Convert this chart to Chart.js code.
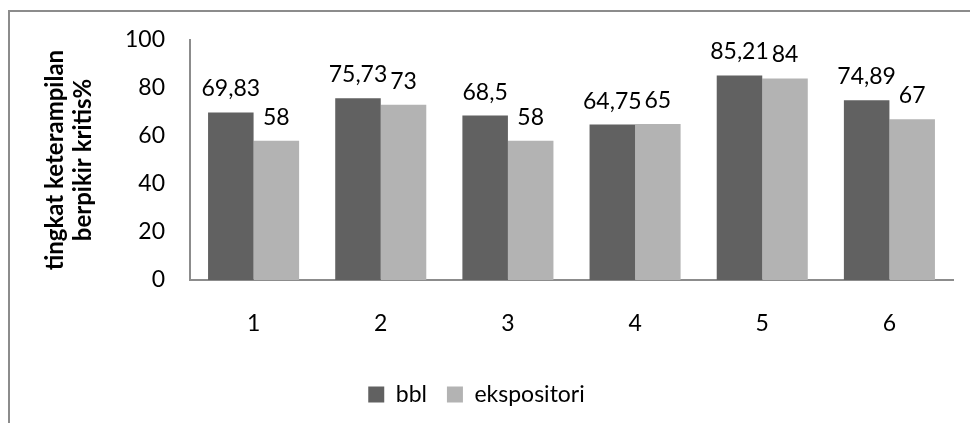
<!DOCTYPE html>
<html><head><meta charset="utf-8">
<script src="https://cdn.jsdelivr.net/npm/chart.js@4"></script>
<style>html,body{margin:0;padding:0;background:#fff;overflow:hidden}
#wrap{position:relative;width:970px;height:423px}
</style></head><body><div id="wrap"><canvas id="c" width="970" height="423"></canvas></div>
<script>
const categories = ['1','2','3','4','5','6'];
const bblValues = [69.83, 75.73, 68.5, 64.75, 85.21, 74.89];
const ekspositoriValues = [58, 73, 58, 65, 84, 67];
const seriesNames = ['bbl','ekspositori'];
const yTicks = [0,20,40,60,80,100];
const yTitle = ['tingkat keterampilan','berpikir kritis%'];

const FONT = 'Lato';
const FS = 23;

const framePlugin = {
  id: 'frame',
  beforeDraw(chart){
    const ctx = chart.ctx;
    ctx.save();
    ctx.fillStyle = '#fff';
    ctx.fillRect(0,0,chart.width,chart.height);
    ctx.strokeStyle = '#8c8c8c';
    ctx.lineWidth = 2;
    ctx.beginPath();
    ctx.moveTo(9, chart.height);
    ctx.lineTo(9, 11);
    ctx.lineTo(chart.width, 11);
    ctx.stroke();
    ctx.restore();
  }
};

const valueLabels = {
  id: 'valueLabels',
  afterDatasetsDraw(chart){
    const ctx = chart.ctx;
    ctx.save();
    ctx.font = FS + 'px ' + FONT;
    ctx.fillStyle = '#000';
    ctx.textAlign = 'center';
    ctx.textBaseline = 'alphabetic';
    chart.data.datasets.forEach((ds, i) => {
      const meta = chart.getDatasetMeta(i);
      meta.data.forEach((bar, j) => {
        ctx.fillText(String(ds.data[j]).replace('.', ','), bar.x, bar.y - 16);
      });
    });
    ctx.restore();
  }
};

new Chart(document.getElementById('c'), {
  type: 'bar',
  data: {
    labels: categories,
    datasets: [
      { label: seriesNames[0], data: bblValues, backgroundColor: '#616161', borderWidth: 0 },
      { label: seriesNames[1], data: ekspositoriValues, backgroundColor: '#b3b3b3', borderWidth: 0 }
    ]
  },
  options: {
    responsive: false,
    animation: false,
    devicePixelRatio: 1,
    layout: { padding: { top: 40, right: 17, bottom: 7, left: 0 } },
    datasets: { bar: { categoryPercentage: 0.716, barPercentage: 1.0 } },
    scales: {
      x: {
        grid: { display: false, drawTicks: false },
        border: { display: true, color: '#8c8c8c', width: 2 },
        ticks: { font: { family: FONT, size: FS }, color: '#000', padding: 30 },
        afterFit(s){ s.height = 83; }
      },
      y: {
        min: 0, max: 100,
        grid: { display: false, drawTicks: false },
        border: { display: true, color: '#8c8c8c', width: 2 },
        ticks: { font: { family: FONT, size: FS }, color: '#000', padding: 25 },
        afterBuildTicks(s){ s.ticks = yTicks.map(v => ({ value: v })); },
        afterFit(s){ s.width = 190; },
        title: {
          display: true,
          text: yTitle,
          font: { family: FONT, size: 24, weight: 'bold', lineHeight: 1.17 },
          color: '#000',
          padding: { top: 41, bottom: 0 }
        }
      }
    },
    plugins: {
      legend: {
        position: 'bottom',
        labels: {
          boxWidth: 16, boxHeight: 16,
          font: { family: FONT, size: FS },
          color: '#000',
          padding: 20
        }
      },
      tooltip: { enabled: false }
    }
  },
  plugins: [framePlugin, valueLabels]
});
</script></body></html>
